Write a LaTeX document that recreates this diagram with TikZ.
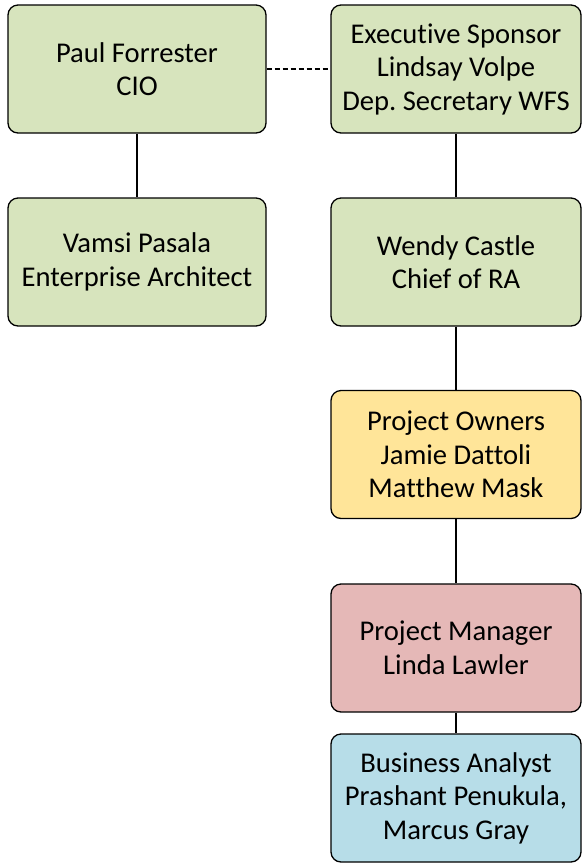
\documentclass[tikz,border=0pt]{standalone}
\usepackage{fontspec}
\setmainfont{Carlito}[Ligatures=NoCommon]
\usetikzlibrary{positioning}

\definecolor{boxgreen}{HTML}{D7E4BD}
\definecolor{boxgold}{HTML}{FFE599}
\definecolor{boxred}{HTML}{E5B8B7}
\definecolor{boxblue}{HTML}{B7DDE8}

\tikzset{
    orgbox/.style={draw=black, line width=0.65pt, rounded corners=5pt,
        minimum height=64pt, align=center, inner sep=0pt,
        font=\fontsize{14.3}{16.75}\selectfont},
    widebox/.style={orgbox, minimum width=129pt},
    narrowbox/.style={orgbox, minimum width=125pt},
    link/.style={line width=0.55pt}
}

\frenchspacing
\begin{document}
\begin{tikzpicture}[x=0.5pt, y=-0.5pt]
        \useasboundingbox (0,0) rectangle (582,864);

        % Left column
        \node[widebox, fill=boxgreen] (cio) at (137,69) {Paul Forrester\\CIO};
        \node[widebox, fill=boxgreen] (architect) at (137,262) {Vamsi Pasala\\Enterprise Architect};

        % Right column
        \node[narrowbox, fill=boxgreen] (sponsor) at (456,69) {Executive Sponsor\\Lindsay Volpe\\Dep. Secretary WFS};
        \node[narrowbox, fill=boxgreen] (chief) at (456,262) {Wendy Castle\\Chief of RA};
        \node[narrowbox, fill=boxgold] (owners) at (456,454.5) {Project Owners\\Jamie Dattoli\\Matthew Mask};
        \node[narrowbox, fill=boxred] (manager) at (456,648) {Project Manager\\Linda Lawler};
        \node[narrowbox, fill=boxblue] (analyst) at (456,798) {Business Analyst\\Prashant Penukula,\\Marcus Gray};

        % Reporting lines
        \draw[link] (cio) -- (architect);
        \draw[link] (sponsor) -- (chief);
        \draw[link] (chief) -- (owners);
        \draw[link] (owners) -- (manager);
        \draw[link] (manager) -- (analyst);

        % Dotted line between CIO and sponsor
        \draw[link, dash pattern=on 2.5pt off 1.5pt] (cio) -- (sponsor);

    \end{tikzpicture}
\end{document}
